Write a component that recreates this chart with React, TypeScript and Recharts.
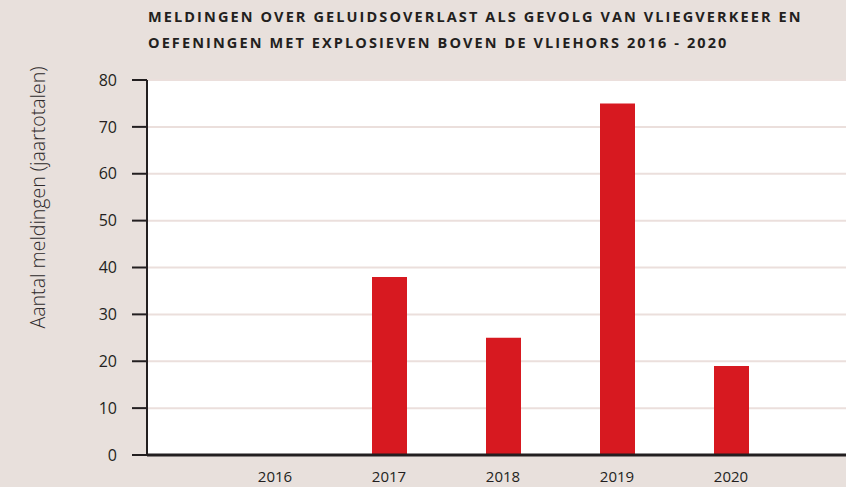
import { BarChart, Bar, XAxis, YAxis, CartesianGrid, Label } from "recharts";

const years = ["2016", "2017", "2018", "2019", "2020"];
const meldingen = [0, 38, 25, 75, 19];
const yTicks = [0, 10, 20, 30, 40, 50, 60, 70, 80];

const data = years.map((year, i) => ({ year, meldingen: meldingen[i] }));

const ink = "#231f20";
const numFont = {
  fontFamily: "'Open Sans', sans-serif",
  fontFeatureSettings: "'onum'",
  fontSize: 16,
  fill: ink,
};

const renderYLabel = (props: any) => {
  const vb = props.viewBox;
  const cx = 37;
  const cy = vb.y + vb.height / 2 - 70;
  return (
    <text
      x={cx}
      y={cy}
      transform={`rotate(-90 ${cx} ${cy})`}
      textAnchor="middle"
      dominantBaseline="central"
      style={{ fontFamily: "'Open Sans', sans-serif", fontWeight: 300, fontSize: 19.5, fill: "#2e2a2b" }}
    >
      Aantal meldingen (jaartotalen)
    </text>
  );
};

export default function App() {
  return (
    <div
      style={{
        position: "absolute",
        left: 0,
        top: 0,
        width: 846,
        height: 487,
        background: "#e8e0dc",
        overflow: "hidden",
      }}
    >
      <div
        style={{
          position: "absolute",
          left: 148,
          top: 4,
          fontFamily: "'Open Sans', sans-serif",
          fontWeight: 700,
          fontSize: 14.5,
          letterSpacing: 2.1,
          lineHeight: "26px",
          color: ink,
          textTransform: "uppercase",
          whiteSpace: "nowrap",
        }}
      >
        <div>meldingen over geluidsoverlast als gevolg van vliegverkeer en</div>
        <div>oefeningen met explosieven boven de vliehors 2016 - 2020</div>
      </div>
      <BarChart
        width={846}
        height={487}
        data={data}
        margin={{ top: 80, right: 0, bottom: 2, left: 0 }}
      >
        <CartesianGrid vertical={false} fill="#ffffff" stroke="#ebdfdc" strokeWidth={2} />
        <XAxis
          dataKey="year"
          height={30}
          tickLine={false}
          axisLine={{ stroke: ink, strokeWidth: 3 }}
          tickMargin={10}
          padding={{ left: 71, right: 58 }}
          tick={{ ...numFont, fontSize: 15 }}
        />
        <YAxis
          width={147}
          domain={[0, 80]}
          ticks={yTicks}
          interval={0}
          tickSize={15}
          tickMargin={15}
          axisLine={{ stroke: ink, strokeWidth: 2 }}
          tickLine={{ stroke: ink, strokeWidth: 2 }}
          tick={numFont}
        >
          <Label content={renderYLabel} />
        </YAxis>
        <Bar dataKey="meldingen" fill="#d71920" barSize={35} isAnimationActive={false} />
      </BarChart>
    </div>
  );
}
